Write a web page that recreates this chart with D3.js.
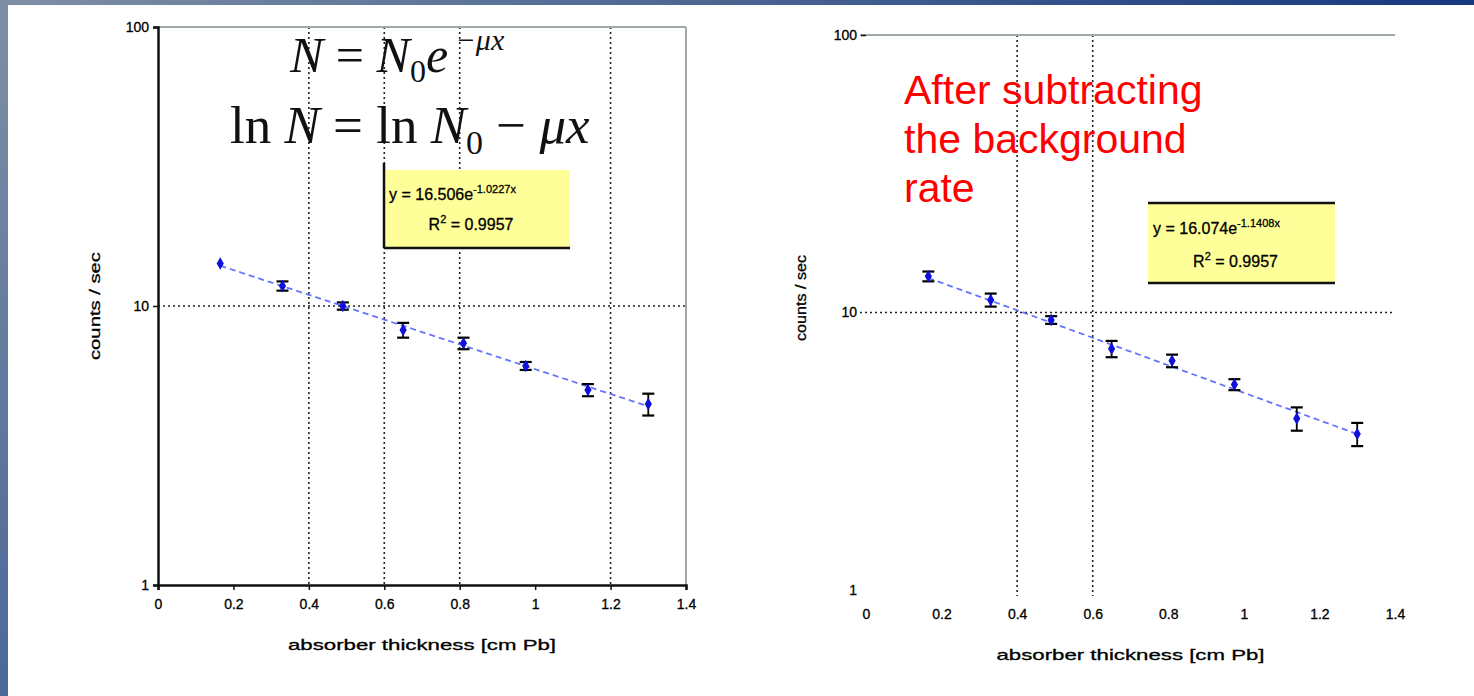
<!DOCTYPE html>
<html>
<head>
<meta charset="utf-8">
<script src="https://cdn.jsdelivr.net/npm/d3@7"></script>
<style>
  body { margin: 0; background: #fff; }
  svg { display: block; }
  .tick text { font-family: "Liberation Sans", Arial, sans-serif; }
</style>
</head>
<body>
<div id="chart"></div>
<script>
// ---- data ----
const thickness = [0.165, 0.33, 0.49, 0.65, 0.81, 0.975, 1.14, 1.30];

// raw counts (left panel)
const rawRate = [14.2, 11.8, 10.0, 8.2, 7.35, 6.1, 5.0, 4.45];
const rawErr  = [0.0, 0.45, 0.3, 0.5, 0.35, 0.2, 0.25, 0.4];
const rawFit  = {a: 16.506, b: 1.0227, r2: 0.9957};

// background subtracted (right panel)
const subRate = [13.5, 11.1, 9.4, 7.4, 6.7, 5.5, 4.15, 3.65];
const subErr  = [0.55, 0.6, 0.3, 0.5, 0.35, 0.25, 0.4, 0.35];
const subFit  = {a: 16.074, b: 1.1408, r2: 0.9957};

const xTicks = [0, 0.2, 0.4, 0.6, 0.8, 1, 1.2, 1.4];
const yTicks = [1, 10, 100];

const W = 1474, H = 696;
const font = '"Liberation Sans", Arial, sans-serif';

const svg = d3.select('#chart').append('svg')
  .attr('width', W).attr('height', H);

// slide frame
const defs = svg.append('defs');
const gTop = defs.append('linearGradient').attr('id', 'gTop');
gTop.append('stop').attr('offset', '0%').attr('stop-color', '#7e8fa5');
gTop.append('stop').attr('offset', '100%').attr('stop-color', '#16387f');
const gLeft = defs.append('linearGradient').attr('id', 'gLeft')
  .attr('x1', 0).attr('y1', 0).attr('x2', 0).attr('y2', 1);
gLeft.append('stop').attr('offset', '0%').attr('stop-color', '#7e8fa5');
gLeft.append('stop').attr('offset', '100%').attr('stop-color', '#4b6898');

svg.append('rect').attr('width', W).attr('height', H).attr('fill', '#fff');
svg.append('rect').attr('width', W).attr('height', 5).attr('fill', 'url(#gTop)');
svg.append('rect').attr('width', 8).attr('height', H).attr('fill', 'url(#gLeft)');

function drawPanel(cfg) {
  const x = d3.scaleLinear().domain([0, 1.4]).range([cfg.x0, cfg.x1]);
  const y = d3.scaleLog().domain([1, 100]).range([cfg.y0, cfg.y1]);
  const g = svg.append('g');

  // grid
  g.selectAll('.vgrid').data(cfg.vGrid).enter().append('line')
    .attr('x1', d => x(d)).attr('x2', d => x(d))
    .attr('y1', y(100)).attr('y2', cfg.vGridBottom)
    .attr('stroke', '#222').attr('stroke-width', 1.6)
    .attr('stroke-dasharray', '2,3');
  g.append('line')
    .attr('x1', cfg.hGridLeft).attr('x2', x(1.4))
    .attr('y1', y(10)).attr('y2', y(10))
    .attr('stroke', '#222').attr('stroke-width', 1.6)
    .attr('stroke-dasharray', '2,3');

  // plot border (top / right)
  g.append('line')
    .attr('x1', cfg.hGridLeft).attr('x2', x(1.4))
    .attr('y1', y(100)).attr('y2', y(100))
    .attr('stroke', '#9fabab').attr('stroke-width', 2);
  if (cfg.frame) {
    g.append('line')
      .attr('x1', x(1.4)).attr('x2', x(1.4))
      .attr('y1', y(100)).attr('y2', y(1))
      .attr('stroke', '#9fabab').attr('stroke-width', 2);
  }

  // axes
  const xAxis = d3.axisBottom(x).tickValues(xTicks)
    .tickFormat(d3.format('~g'))
    .tickSize(cfg.frame ? 5 : 0).tickPadding(cfg.frame ? 9 : 19);
  const yAxis = d3.axisLeft(y).tickValues(yTicks)
    .tickFormat(d3.format('d'))
    .tickSize(5).tickPadding(4);

  const gx = g.append('g').attr('transform', `translate(0,${y(1)})`).call(xAxis);
  const gy = g.append('g').attr('transform', `translate(${cfg.x0},0)`).call(yAxis);
  [gx, gy].forEach(a => {
    a.selectAll('text').attr('font-size', 14).attr('fill', '#000')
      .attr('stroke', '#000').attr('stroke-width', 0.3);
    a.selectAll('.tick line').attr('stroke', '#111').attr('stroke-width', 1.5);
  });
  if (cfg.frame) {
    gx.select('.domain').attr('stroke', '#111').attr('stroke-width', 2.5);
    gy.select('.domain').attr('stroke', '#111').attr('stroke-width', 2.5);
  } else {
    gx.select('.domain').remove();
    gy.select('.domain').remove();
    gy.selectAll('.tick line').filter(d => d !== 100).remove();
    gx.selectAll('.tick line').remove();
  }

  // axis titles
  g.append('text')
    .attr('x', (cfg.x0 + x(1.4)) / 2).attr('y', cfg.xTitleY)
    .attr('text-anchor', 'middle')
    .attr('font-family', font).attr('font-size', 15).attr('fill', '#000')
    .attr('stroke', '#000').attr('stroke-width', 0.3)
    .attr('textLength', 268).attr('lengthAdjust', 'spacingAndGlyphs')
    .text('absorber thickness [cm Pb]');
  g.append('text')
    .attr('transform', `translate(${cfg.yTitleX},${cfg.yTitleMid}) rotate(-90)`)
    .attr('text-anchor', 'middle')
    .attr('font-family', font).attr('font-size', 15).attr('fill', '#000')
    .attr('stroke', '#000').attr('stroke-width', 0.3)
    .attr('textLength', cfg.yTitleLen).attr('lengthAdjust', 'spacingAndGlyphs')
    .text('counts / sec');

  // trend line
  const fx = d3.range(0, 41).map(i => thickness[0] + i * (thickness[thickness.length - 1] - thickness[0]) / 40);
  g.append('path')
    .datum(fx)
    .attr('d', d3.line().x(d => x(d)).y(d => y(cfg.fit.a * Math.exp(-cfg.fit.b * d))))
    .attr('fill', 'none').attr('stroke', '#4a5cff').attr('stroke-width', 1.8)
    .attr('stroke-dasharray', '6,4').attr('opacity', 0.85);

  // error bars
  const pts = thickness.map((t, i) => ({x: t, y: cfg.rate[i], e: cfg.err[i]}));
  const eb = g.selectAll('.eb').data(pts.filter(d => d.e > 0)).enter().append('g');
  eb.append('line')
    .attr('x1', d => x(d.x)).attr('x2', d => x(d.x))
    .attr('y1', d => y(d.y + d.e)).attr('y2', d => y(d.y - d.e))
    .attr('stroke', '#000').attr('stroke-width', 1.8);
  eb.append('line')
    .attr('x1', d => x(d.x) - 6).attr('x2', d => x(d.x) + 6)
    .attr('y1', d => y(d.y + d.e)).attr('y2', d => y(d.y + d.e))
    .attr('stroke', '#000').attr('stroke-width', 2.2);
  eb.append('line')
    .attr('x1', d => x(d.x) - 6).attr('x2', d => x(d.x) + 6)
    .attr('y1', d => y(d.y - d.e)).attr('y2', d => y(d.y - d.e))
    .attr('stroke', '#000').attr('stroke-width', 2.2);

  // markers
  g.selectAll('.pt').data(pts).enter().append('path')
    .attr('d', d3.symbol().type(d3.symbolDiamond).size(45))
    .attr('transform', d => `translate(${x(d.x)},${y(d.y)})`)
    .attr('fill', '#1010d8');

  // equation box
  const b = cfg.box;
  g.append('rect').attr('x', b.x).attr('y', b.y).attr('width', b.w).attr('height', b.h)
    .attr('fill', '#ffff99');
  b.lines.forEach(l => {
    g.append('line').attr('x1', l[0]).attr('y1', l[1]).attr('x2', l[2]).attr('y2', l[3])
      .attr('stroke', '#111').attr('stroke-width', 2.5);
  });
  const t1 = g.append('text').attr('x', b.x + 5).attr('y', b.y + b.t1)
    .attr('font-family', font).attr('font-size', 16).attr('fill', '#000')
    .attr('stroke', '#000').attr('stroke-width', 0.3);
  t1.append('tspan').text(`y = ${cfg.fit.a.toFixed(3)}e`);
  t1.append('tspan').attr('dy', -7).attr('font-size', 11).text(`-${cfg.fit.b.toFixed(4)}x`);
  const t2 = g.append('text').attr('x', b.x + b.w / 2 - 6).attr('y', b.y + b.t2)
    .attr('text-anchor', 'middle').attr('font-family', font).attr('font-size', 16).attr('fill', '#000')
    .attr('stroke', '#000').attr('stroke-width', 0.3);
  t2.append('tspan').text('R');
  t2.append('tspan').attr('dy', -7).attr('font-size', 11).text('2');
  t2.append('tspan').attr('dy', 7).text(` = ${cfg.fit.r2}`);

  return {x, y, g};
}

// left panel: raw rate
drawPanel({
  x0: 158, x1: 686, y0: 585, y1: 27, frame: true,
  rate: rawRate, err: rawErr, fit: rawFit,
  vGrid: [0.4, 0.6, 0.8, 1.2], vGridBottom: 585, hGridLeft: 158,
  xTitleY: 650, yTitleX: 100, yTitleMid: 306, yTitleLen: 108,
  box: {x: 384, y: 170, w: 186, h: 78, t1: 30, t2: 60,
        lines: [[384, 163, 384, 248], [384, 248, 570, 248]]}
});

// right panel: background subtracted
drawPanel({
  x0: 866, x1: 1395, y0: 590, y1: 35, frame: false,
  rate: subRate, err: subErr, fit: subFit,
  vGrid: [0.4, 0.6], vGridBottom: 596, hGridLeft: 860,
  xTitleY: 660, yTitleX: 806, yTitleMid: 298, yTitleLen: 86,
  box: {x: 1148, y: 203, w: 187, h: 80, t1: 31, t2: 64,
        lines: [[1148, 203, 1335, 203], [1148, 283, 1335, 283]]}
});

// equations on the left panel
const serif = '"Liberation Serif", "Times New Roman", serif';
const eq1 = svg.append('text').attr('x', 290).attr('y', 72)
  .attr('font-family', serif).attr('font-size', 50).attr('fill', '#111');
eq1.append('tspan').attr('font-style', 'italic').text('N');
eq1.append('tspan').text(' = ');
eq1.append('tspan').attr('font-style', 'italic').text('N');
eq1.append('tspan').attr('font-size', 32).attr('dy', 10).text('0');
eq1.append('tspan').attr('font-style', 'italic').attr('dy', -10).text('e');
eq1.append('tspan').attr('font-style', 'italic').attr('font-size', 30).attr('dy', -22).text(' −μx');

const eq2 = svg.append('text').attr('x', 230).attr('y', 143)
  .attr('font-family', serif).attr('font-size', 53).attr('fill', '#111');
eq2.append('tspan').text('ln ');
eq2.append('tspan').attr('font-style', 'italic').text('N');
eq2.append('tspan').text(' = ln ');
eq2.append('tspan').attr('font-style', 'italic').text('N');
eq2.append('tspan').attr('font-size', 34).attr('dy', 11).text('0');
eq2.append('tspan').attr('dy', -11).text(' − ');
eq2.append('tspan').attr('font-style', 'italic').text('μx');

// note on right panel
const note = ['After subtracting', 'the background', 'rate'];
svg.append('g').selectAll('text').data(note).enter().append('text')
  .attr('x', 904).attr('y', (d, i) => 104 + i * 49)
  .attr('font-family', font).attr('font-size', 41).attr('fill', '#ff0000')
  .text(d => d);
</script>
</body>
</html>
